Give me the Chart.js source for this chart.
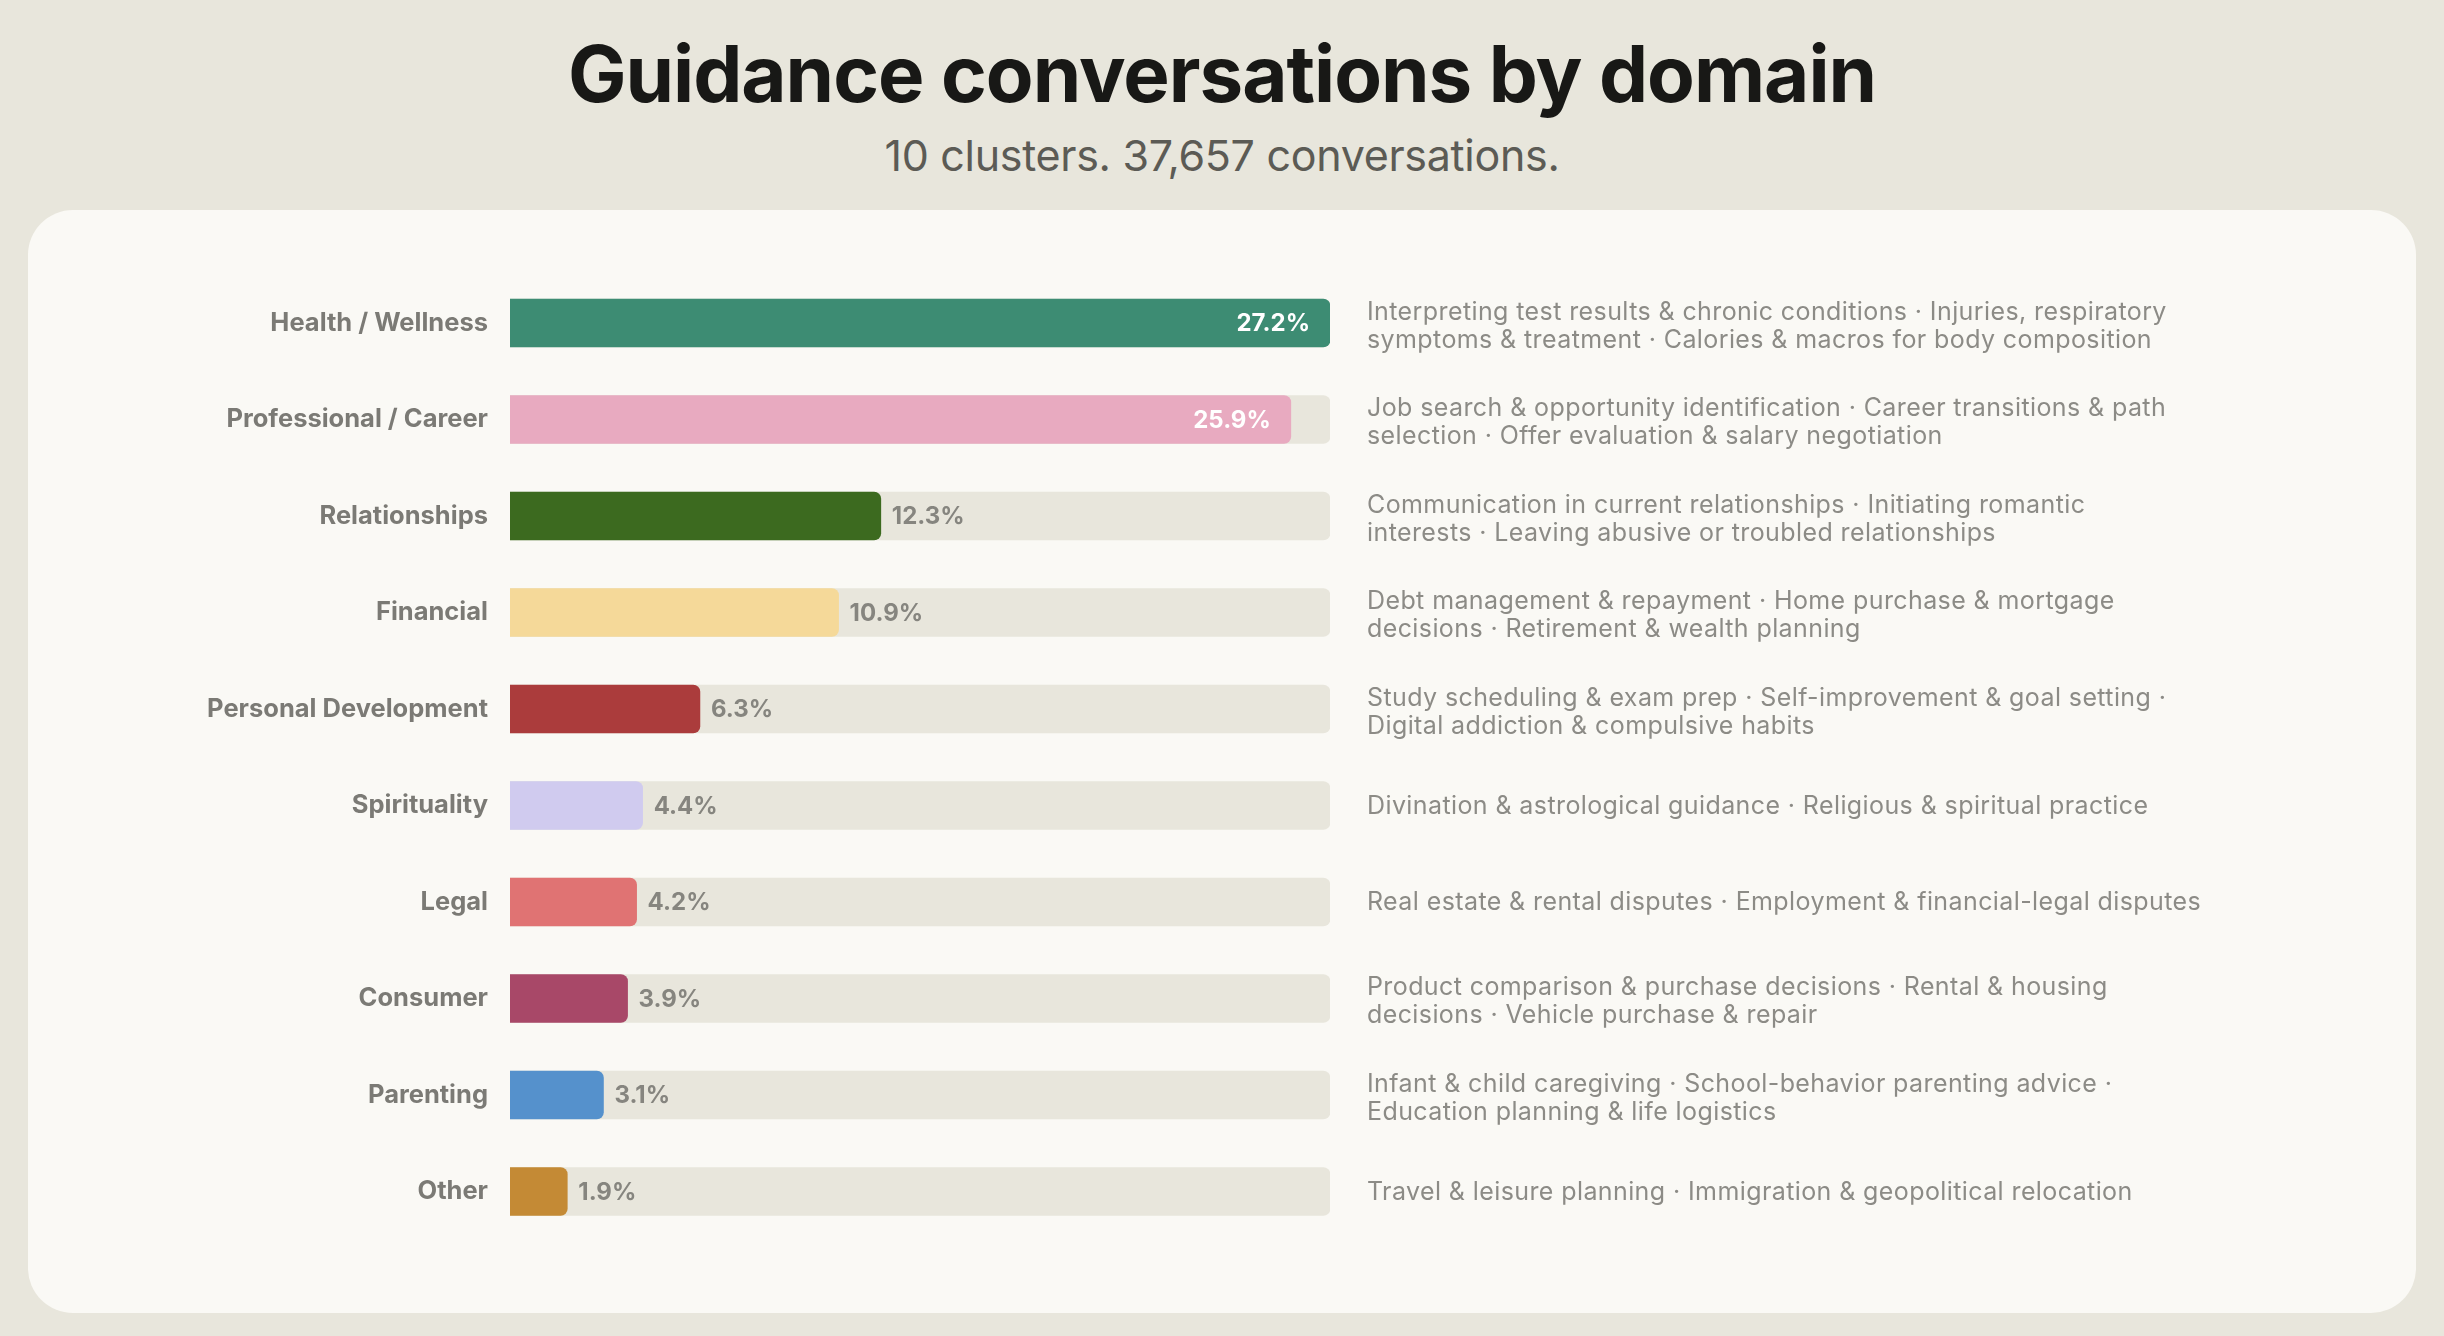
<!DOCTYPE html>
<html>
<head>
<meta charset="utf-8">
<script src="https://cdn.jsdelivr.net/npm/chart.js@4.4.1/dist/chart.umd.min.js"></script>
<style>
html,body{margin:0;padding:0;width:2444px;height:1336px;background:#e8e6dc;overflow:hidden;font-family:Inter,Roboto,sans-serif;}
#title{position:absolute;left:0;width:2444px;top:29px;text-align:center;font-size:78px;font-weight:700;line-height:90px;color:#181816;letter-spacing:-1px;margin:0;}
#subtitle{position:absolute;left:0;width:2444px;top:130px;text-align:center;font-size:43px;font-weight:400;line-height:50px;color:#5c5b55;letter-spacing:-0.3px;margin:0;}
#card{position:absolute;left:28px;top:210px;width:2388px;height:1103px;background:#faf9f5;border-radius:45px;overflow:hidden;}
#card canvas{display:block;}
</style>
</head>
<body>
<h1 id="title">Guidance conversations by domain</h1>
<p id="subtitle">10 clusters. 37,657 conversations.</p>
<div id="card"><canvas id="chart" width="2388" height="1103"></canvas></div>
<script>
const categories = [
  'Health / Wellness', 'Professional / Career', 'Relationships', 'Financial',
  'Personal Development', 'Spirituality', 'Legal', 'Consumer', 'Parenting', 'Other'
];
const shares = [27.2, 25.9, 12.3, 10.9, 6.3, 4.4, 4.2, 3.9, 3.1, 1.9];
const barColors = [
  '#3d8c73', '#e8aac0', '#3c6a1f', '#f5d999', '#ab3c3c',
  '#d0cbef', '#e07373', '#a84868', '#5591cc', '#c48a35'
];
const descriptions = [
  ['Interpreting test results & chronic conditions \u00b7 Injuries, respiratory', 'symptoms & treatment \u00b7 Calories & macros for body composition'],
  ['Job search & opportunity identification \u00b7 Career transitions & path', 'selection \u00b7 Offer evaluation & salary negotiation'],
  ['Communication in current relationships \u00b7 Initiating romantic', 'interests \u00b7 Leaving abusive or troubled relationships'],
  ['Debt management & repayment \u00b7 Home purchase & mortgage', 'decisions \u00b7 Retirement & wealth planning'],
  ['Study scheduling & exam prep \u00b7 Self-improvement & goal setting \u00b7', 'Digital addiction & compulsive habits'],
  ['Divination & astrological guidance \u00b7 Religious & spiritual practice'],
  ['Real estate & rental disputes \u00b7 Employment & financial-legal disputes'],
  ['Product comparison & purchase decisions \u00b7 Rental & housing', 'decisions \u00b7 Vehicle purchase & repair'],
  ['Infant & child caregiving \u00b7 School-behavior parenting advice \u00b7', 'Education planning & life logistics'],
  ['Travel & leisure planning \u00b7 Immigration & geopolitical relocation']
];

const maxShare = Math.max(...shares);
const trackValues = categories.map(() => maxShare);

const annotatePlugin = {
  id: 'annotate',
  afterDatasetsDraw(chart) {
    const ctx = chart.ctx;
    const meta = chart.getDatasetMeta(0);
    const area = chart.chartArea;
    const yScale = chart.scales.y;
    ctx.save();
    ctx.font = 'bold 24px Inter';
    ctx.textBaseline = 'middle';
    meta.data.forEach((bar, i) => {
      const v = shares[i];
      const label = v.toFixed(1) + '%';
      if (v / maxShare > 0.5) {
        ctx.fillStyle = '#ffffff';
        ctx.textAlign = 'right';
        ctx.fillText(label, bar.x - 20, bar.y + 1);
      } else {
        ctx.fillStyle = '#86857f';
        ctx.textAlign = 'left';
        ctx.fillText(label, bar.x + 11, bar.y + 1);
      }
    });
    ctx.font = '25px Inter';
    if ('letterSpacing' in ctx) ctx.letterSpacing = '0.4px';
    ctx.fillStyle = '#8c8b86';
    ctx.textAlign = 'left';
    ctx.textBaseline = 'alphabetic';
    descriptions.forEach((lines, i) => {
      const cy = yScale.getPixelForValue(i);
      const n = lines.length;
      lines.forEach((ln, j) => {
        const y = cy + 8 + (j - (n - 1) / 2) * 28 + (n > 1 ? 2.5 : 0);
        ctx.fillText(ln, area.right + 37, y);
      });
    });
    ctx.restore();
  }
};

new Chart(document.getElementById('chart'), {
  type: 'bar',
  data: {
    labels: categories,
    datasets: [
      {
        label: 'Share',
        data: shares,
        backgroundColor: barColors,
        borderRadius: 7,
        borderSkipped: 'start',
        barThickness: 48,
        grouped: false,
        order: 1
      },
      {
        label: 'Track',
        data: trackValues,
        backgroundColor: '#e8e6dc',
        borderRadius: 7,
        borderSkipped: 'start',
        barThickness: 48,
        grouped: false,
        order: 2
      }
    ]
  },
  options: {
    indexAxis: 'y',
    responsive: false,
    animation: false,
    devicePixelRatio: 1,
    layout: { padding: { left: 0, right: 1086, top: 64.75, bottom: 73.25 } },
    plugins: { legend: { display: false }, tooltip: { enabled: false } },
    scales: {
      x: { min: 0, max: maxShare, display: false },
      y: {
        grid: { display: false, drawTicks: false },
        border: { display: false },
        ticks: {
          color: '#7b7a75',
          font: { family: 'Inter', size: 25.5, weight: 'bold' },
          padding: 22
        },
        afterFit(scale) { scale.width = 482; }
      }
    }
  },
  plugins: [annotatePlugin]
});
</script>
</body>
</html>
